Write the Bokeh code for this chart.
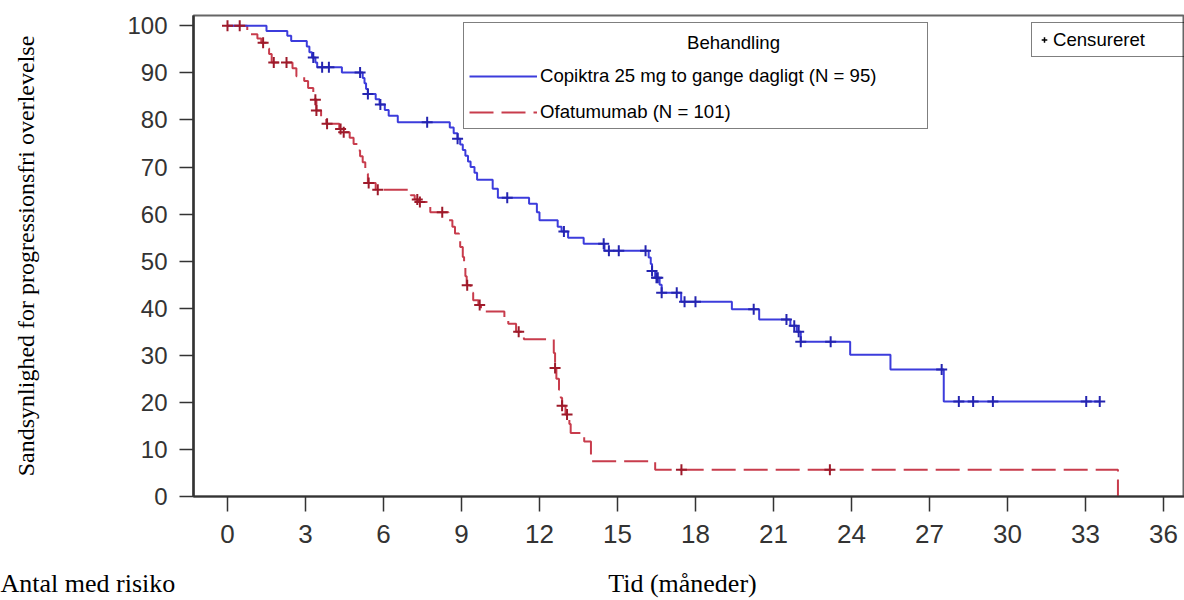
import numpy as np
from bokeh.plotting import figure
from bokeh.models import (FixedTicker, Legend, LegendItem, Label, ColumnDataSource, Range1d,
                          LinearAxis)
from bokeh.embed import file_html
from bokeh.resources import INLINE

# ---------------- data ----------------
x_ticks = [0, 3, 6, 9, 12, 15, 18, 21, 24, 27, 30, 33, 36]
y_ticks = [0, 10, 20, 30, 40, 50, 60, 70, 80, 90, 100]

cop_label = "Copiktra 25 mg to gange dagligt (N = 95)"
cop_event_times = [1.5, 2.3, 2.45, 3.05, 3.15, 3.25, 3.38, 3.45, 4.4, 5.2, 5.27, 5.33, 5.4,
                   5.7, 5.85, 6.05, 6.2, 6.55, 8.55, 8.7, 8.85, 8.95, 9.05, 9.15, 9.25, 9.35,
                   9.5, 9.6, 10.2, 10.4, 11.6, 11.9, 12.0, 12.7, 12.85, 13.1, 13.7, 14.5,
                   16.2, 16.28, 16.33, 16.45, 16.62, 16.7, 17.45, 19.4, 20.45, 21.65, 21.9,
                   22.05, 23.95, 25.5, 27.55]
cop_survival = [98.9, 97.9, 96.8, 95.6, 94.4, 93.3, 92.2, 91.2, 90.1, 88.9, 87.8, 86.6, 85.5,
                84.4, 83.3, 82.1, 80.9, 79.5, 78.4, 77.2, 76.0, 74.8, 73.6, 72.4, 71.2, 70.0,
                68.8, 67.3, 65.4, 63.5, 62.2, 60.4, 58.7, 57.3, 56.3, 55.0, 53.7, 52.2,
                50.8, 49.4, 47.9, 46.5, 45.0, 43.3, 41.4, 39.8, 37.6, 36.3, 35.0,
                32.9, 30.1, 27.0, 20.2]
cop_censor_times = [3.3, 3.64, 3.9, 5.1, 5.4, 5.88, 7.68, 8.85, 10.76, 12.94, 14.47, 14.67,
                    15.05, 16.08, 16.33, 16.5, 16.55, 16.7, 17.28, 17.58, 18.0, 20.24, 21.5,
                    21.8, 21.97, 22.05, 23.2, 27.47, 28.13, 28.68, 29.44, 33.03, 33.55]

ofa_label = "Ofatumumab (N = 101)"
ofa_event_times = [0.76, 1.15, 1.3, 1.5, 1.6, 1.7, 2.5, 2.65, 2.95, 3.1, 3.3, 3.38, 3.42, 3.6,
                   3.8, 4.3, 4.45, 4.7, 4.85, 5.0, 5.1, 5.2, 5.3, 5.4, 5.7, 7.05, 7.2, 7.35,
                   7.8, 8.5, 8.65, 8.75, 8.9, 8.95, 9.05, 9.1, 9.15, 9.2, 9.35, 9.45, 9.65,
                   9.75, 10.65, 10.8, 11.1, 11.4, 12.55, 12.6, 12.65, 12.75, 12.82, 12.87,
                   13.0, 13.15, 13.2, 13.72, 13.98, 16.45, 34.25]
ofa_survival = [98.2, 97.3, 96.4, 95.2, 94.0, 92.2, 91.0, 89.3, 88.3, 86.8, 85.5, 84.3, 82.0,
                80.4, 79.2, 78.1, 77.4, 76.2, 74.9, 73.5, 72.3, 71.0, 68.6, 66.6, 65.2, 64.0,
                63.1, 62.6, 60.4, 58.7, 57.3, 55.9, 54.5, 53.0, 50.9, 48.8, 46.8, 44.9, 43.3,
                41.7, 40.7, 39.3, 37.8, 36.7, 35.0, 33.4, 30.5, 27.3, 25.0, 22.7, 21.0, 19.3,
                17.4, 15.4, 13.5, 11.7, 7.5, 5.7, 0.0]
ofa_censor_times = [0.0, 0.47, 1.37, 1.78, 2.27, 3.38, 3.42, 3.83, 4.35, 4.47, 5.43, 5.78,
                    7.3, 7.4, 8.26, 9.22, 9.7, 11.2, 12.6, 12.87, 13.06, 17.46, 23.17]

legend_title = "Behandling"
censor_label = "Censureret"
x_label = "Tid (måneder)"
y_label = "Sandsynlighed for progressionsfri overlevelse"
risk_label = "Antal med risiko"


def km_path(times, surv, censor):
    xs = [0.0] + list(times)
    ys = [100.0] + list(surv)
    end = max(censor)
    if end > xs[-1]:
        xs.append(end)
        ys.append(ys[-1])
    return xs, ys


def km_at(times, surv, t):
    full = np.concatenate([[100.0], np.asarray(surv, dtype=float)])
    idx = np.searchsorted(np.asarray(times, dtype=float), np.asarray(t, dtype=float), side="right")
    return full[idx]


BLUE = "#3c3cdc"
BLUE_DARK = "#2424b0"
RED = "#c83c4c"
RED_DARK = "#9e1a2a"

W, H = 1184, 600
X0, X1 = -1.3077, 36.81
p = figure(width=W, height=H,
           x_range=Range1d(X0, X1), y_range=Range1d(0, 102.2),
           output_backend="svg", toolbar_location=None,
           min_border_left=193, min_border_right=0, min_border_top=15, min_border_bottom=103)
p.xgrid.visible = False
p.ygrid.visible = False
p.outline_line_color = "#666666"
p.outline_line_width = 2
p.background_fill_color = "white"
p.border_fill_color = "white"

# curves
ox, oy = km_path(ofa_event_times, ofa_survival, ofa_censor_times)
r_ofa = p.step(ox, oy, mode="after", line_color=RED, line_width=2, line_dash="24 8")
cx, cy = km_path(cop_event_times, cop_survival, cop_censor_times)
r_cop = p.step(cx, cy, mode="after", line_color=BLUE, line_width=2)

# censor marks
ofa_cens_src = ColumnDataSource(dict(t=ofa_censor_times,
                                     s=km_at(ofa_event_times, ofa_survival, ofa_censor_times)))
cop_cens_src = ColumnDataSource(dict(t=cop_censor_times,
                                     s=km_at(cop_event_times, cop_survival, cop_censor_times)))
p.scatter("t", "s", source=ofa_cens_src, marker="cross", size=11,
          line_color=RED_DARK, line_width=2)
p.scatter("t", "s", source=cop_cens_src, marker="cross", size=11,
          line_color=BLUE_DARK, line_width=2)

# zero-size copy of the censor marks: only provides the black "+" of the censor legend
r_cens = p.scatter("t", "s", source=cop_cens_src, marker="cross", size=0,
                   line_color="black", line_width=1.5)

# axes
for ax in (p.xaxis[0], p.yaxis[0]):
    ax.axis_line_color = "#333333"
    ax.major_tick_line_color = "#333333"
    ax.major_tick_line_width = 1.5
    ax.major_tick_in = 0
    ax.minor_tick_in = 0
    ax.minor_tick_out = 0
    ax.major_label_text_color = "#333333"

p.xaxis.ticker = FixedTicker(ticks=x_ticks)
p.yaxis.ticker = FixedTicker(ticks=y_ticks)
p.xaxis.axis_line_width = 2
p.yaxis.axis_line_width = 2.5
p.xaxis.major_tick_out = 15
p.yaxis.major_tick_out = 14
p.xaxis.major_label_text_font = "Liberation Sans"
p.xaxis.major_label_text_font_size = "26px"
p.xaxis.major_label_standoff = 13
p.yaxis.major_label_text_font = "Liberation Sans"
p.yaxis.major_label_text_font_size = "24px"
p.yaxis.major_label_standoff = 12
p.yaxis.axis_label = y_label
p.yaxis.axis_label_text_font = "Liberation Serif"
p.yaxis.axis_label_text_font_style = "normal"
p.yaxis.axis_label_text_color = "black"
p.yaxis.axis_label_text_font_size = "24px"
p.yaxis.axis_label_standoff = 85

# second text row below the tick labels: "Antal med risiko" at the far left and the
# x axis title.  Labels are centred on their tick, so the left text is padded with
# no-break spaces to end left of the y axis as in the reference.
row_ticks = [X0 + 0.01, 17.5]
row_text = LinearAxis(ticker=FixedTicker(ticks=row_ticks),
                      major_label_overrides={row_ticks[0]: risk_label + "\u00a0" * 40,
                                             row_ticks[1]: x_label})
row_text.axis_line_color = None
row_text.major_tick_line_color = None
row_text.minor_tick_line_color = None
row_text.major_tick_out = 0
row_text.major_tick_in = 0
row_text.major_label_standoff = 23
row_text.major_label_text_font = "Liberation Serif"
row_text.major_label_text_font_size = "26px"
row_text.major_label_text_color = "black"
p.add_layout(row_text, "below")

# legend: treatments
leg = Legend(items=[LegendItem(label=cop_label, renderers=[r_cop]),
                    LegendItem(label=ofa_label, renderers=[r_ofa])],
             location=(270, 367), orientation="vertical",
             title=" ", title_text_font_size="18px", title_standoff=16,
             padding=5, spacing=14, margin=0,
             glyph_width=68, glyph_height=22, label_height=22, label_width=382,
             label_standoff=3,
             label_text_font="Liberation Sans", label_text_font_size="18.6px",
             label_text_color="black",
             border_line_color="black", border_line_width=1.5,
             background_fill_alpha=0.0)
p.add_layout(leg, "center")

leg2 = Legend(items=[LegendItem(label=censor_label, renderers=[r_cens])],
              location=(838, 439), orientation="vertical",
              padding=5, spacing=0, margin=0,
              glyph_width=14, glyph_height=23, label_height=23, label_width=200,
              label_standoff=2,
              label_text_font="Liberation Sans", label_text_font_size="18.6px",
              label_text_color="black",
              border_line_color="black", border_line_width=1.5,
              background_fill_alpha=0.0)
p.add_layout(leg2, "center")

p.add_layout(Label(x=540, y=454, x_units="screen", y_units="screen", text=legend_title,
                   text_align="center", text_baseline="middle", text_font="Liberation Sans",
                   text_font_size="18.6px", text_color="black", level="overlay"))

open("out.html", "w").write(file_html(p, INLINE))
